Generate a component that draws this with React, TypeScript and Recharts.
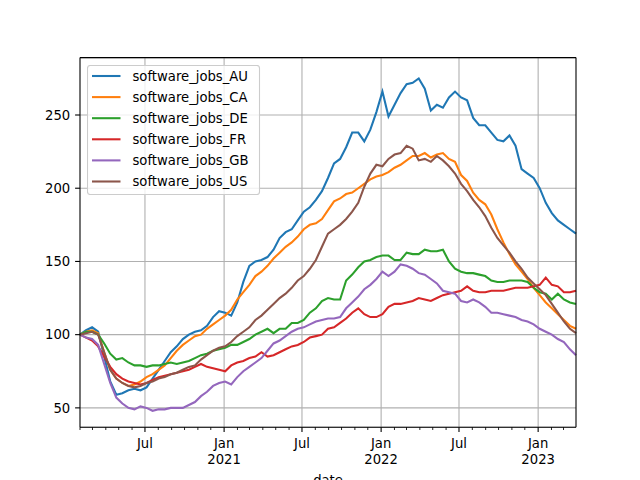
import { LineChart, Line, XAxis, YAxis, CartesianGrid, ReferenceLine, Legend } from "recharts";

// days are counted from 2020-02-01, the left edge of the axis
const START = Date.UTC(2020, 1, 1);
const DAY = 86400000;
const LAST_DAY = 1153;
const FONT = "DejaVu Sans";
const FS = 13.2;

const countries = ["AU", "CA", "DE", "FR", "GB", "US"];
const colors = ["#1f77b4", "#ff7f0e", "#2ca02c", "#d62728", "#9467bd", "#8c564b"];

const AU = [
  100, 103, 105, 102, 85, 68, 59, 60, 62, 63,
  62, 64, 70, 76, 82, 88, 92, 97, 100, 102,
  103, 106, 112, 116, 115, 113, 122, 136, 147, 150,
  151, 153, 158, 166, 170, 172, 178, 184, 187, 192,
  198, 207, 217, 220, 228, 238, 238, 232, 240, 252,
  266, 249, 257, 265, 271, 272, 275, 268, 253, 257,
  255, 262, 266, 262, 260, 248, 243, 243, 238, 233,
  232, 236, 229, 213, 210, 207, 200, 190, 183, 178,
  175, 172, 169,
];
const CA = [
  100, 102, 103, 101, 88, 76, 70, 67, 65, 66,
  68, 71, 73, 76, 79, 84, 89, 93, 96, 99,
  100, 104, 107, 110, 113, 117, 124, 129, 134, 140,
  143, 147, 152, 156, 160, 163, 167, 172, 175, 176,
  179, 185, 191, 193, 196, 197, 200, 203, 206, 208,
  209, 211, 214, 216, 219, 222, 222, 224, 221, 223,
  224, 220, 218, 209, 205, 197, 192, 189, 182, 172,
  163, 155, 148, 143, 138, 132, 127, 122, 118, 114,
  110, 106, 104,
];
const DE = [
  100, 102, 102, 100, 94, 87, 83, 84, 81, 79,
  79, 78, 79, 79, 80, 81, 80, 81, 82, 84,
  86, 87, 89, 90, 91, 93, 93, 95, 97, 100,
  102, 104, 101, 104, 104, 108, 108, 110, 115, 118,
  123, 125, 124, 124, 137, 141, 146, 150, 151, 153,
  154, 154, 151, 151, 156, 155, 155, 158, 157, 157,
  158, 150, 145, 143, 142, 142, 141, 140, 137, 136,
  136, 137, 137, 137, 136, 132, 129, 128, 124, 128,
  124, 122, 121,
];
const FR = [
  100, 98, 96, 92, 85, 78, 73, 70, 68, 67,
  66, 67, 69, 71, 72, 73, 74, 75, 76, 78,
  80, 78, 77, 76, 75, 79, 81, 82, 84, 85,
  88, 85, 86, 88, 90, 92, 93, 95, 98, 99,
  100, 104, 105, 108, 111, 115, 118, 114, 112, 112,
  114, 119, 121, 121, 122, 123, 125, 124, 123, 125,
  127, 128, 129, 130, 133, 130, 129, 129, 130, 130,
  130, 131, 132, 132, 132, 133, 134, 139, 134, 133,
  129, 129, 130,
];
const GB = [
  100, 98, 97, 93, 80, 67, 57, 53, 50, 49,
  51, 50, 48, 49, 49, 50, 50, 50, 52, 54,
  58, 61, 65, 67, 68, 66, 71, 75, 78, 81,
  84, 89, 94, 96, 99, 102, 104, 105, 107, 109,
  110, 111, 111, 112, 118, 122, 126, 131, 134, 138,
  143, 140, 143, 148, 147, 145, 142, 141, 138, 135,
  130, 129, 128, 123, 122, 124, 122, 119, 115, 115,
  114, 113, 112, 110, 109, 107, 104, 102, 100, 97,
  95, 90, 86,
];
const US = [
  100, 101, 102, 100, 88, 76, 70, 67, 65, 64,
  65, 67, 68, 70, 71, 73, 74, 76, 78, 79,
  83, 86, 89, 91, 92, 95, 99, 102, 105, 110,
  113, 117, 121, 125, 128, 132, 137, 140, 145, 151,
  160, 169, 172, 175, 179, 184, 190, 201, 210, 216,
  215, 220, 223, 224, 229, 227, 219, 220, 218, 222,
  219, 215, 210, 203, 198, 192, 187, 181, 173, 166,
  161, 156, 150, 145, 139, 135, 131, 127, 121, 115,
  109, 104, 101,
];

const yTicks = [50, 100, 150, 200, 250];
const yDomain = [36.8, 289.2];

const series = { AU, CA, DE, FR, GB, US };
const data = AU.map((_, i) => {
  const row: Record<string, number> = { day: (i * LAST_DAY) / (AU.length - 1) };
  countries.forEach((c) => (row[c] = series[c][i]));
  return row;
});

// month starts from Feb 2020 to Mar 2023, as day offsets
const monthTicks: number[] = [];
for (let y = 2020, m = 1; ; m++) {
  if (m === 12) { m = 0; y++; }
  const d = (Date.UTC(y, m, 1) - START) / DAY;
  if (d > LAST_DAY) break;
  monthTicks.push(d);
}
const majorTicks = monthTicks.filter((d) => {
  const m = new Date(START + d * DAY).getUTCMonth();
  return m === 0 || m === 6;
});

function DateTick({ x, y, payload }: any) {
  const dt = new Date(START + payload.value * DAY);
  const m = dt.getUTCMonth();
  const major = m === 0 || m === 6;
  return (
    <g>
      <line x1={x} x2={x} y1={y} y2={y + (major ? 4.9 : 2.8)} stroke="#000" strokeWidth={major ? 1.1 : 0.85} />
      {major && (
        <text x={x} y={y + 20.8} textAnchor="middle" fontFamily={FONT} fontSize={FS} fill="#000">
          {m === 0 ? "Jan" : "Jul"}
        </text>
      )}
      {m === 0 && (
        <text x={x} y={y + 36.8} textAnchor="middle" fontFamily={FONT} fontSize={FS} fill="#000">
          {dt.getUTCFullYear()}
        </text>
      )}
    </g>
  );
}

function LegendBox() {
  return (
    <svg width={174} height={130} style={{ display: "block" }}>
      <rect x={0.5} y={0.5} width={172} height={129} rx={2.8} fill="#fff" fillOpacity={0.8} stroke="#cccccc" strokeWidth={1.1} />
      {countries.map((c, i) => {
        const cy = 11 + i * 21.1;
        return (
          <g key={c}>
            <line x1={5} x2={33.5} y1={cy} y2={cy} stroke={colors[i]} strokeWidth={2.08} />
            <text x={45.5} y={cy} dy="0.36em" fontFamily={FONT} fontSize={FS} fill="#000">
              {`software_jobs_${c}`}
            </text>
          </g>
        );
      })}
    </svg>
  );
}

export default function App() {
  return (
    <div style={{ position: "absolute", left: 0, top: 0, background: "#fff" }}>
      <LineChart width={640} height={480} data={data} margin={{ top: 57.6, right: 64, bottom: 0, left: 0 }}>
        <CartesianGrid vertical={false} stroke="#b0b0b0" strokeWidth={1.1} />
        {majorTicks.map((d) => (
          <ReferenceLine key={d} x={d} stroke="#b0b0b0" strokeWidth={1.1} />
        ))}
        <XAxis
          dataKey="day"
          type="number"
          domain={[0, LAST_DAY]}
          ticks={monthTicks}
          interval={0}
          tick={<DateTick />}
          tickLine={false}
          tickSize={0}
          tickMargin={0}
          height={52.8}
          axisLine={{ stroke: "#000", strokeWidth: 1.1 }}
          label={({ viewBox }: any) => (
            <text x={viewBox.x + viewBox.width / 2} y={viewBox.y + 57.8} textAnchor="middle" fontFamily={FONT} fontSize={FS} fill="#000">
              date
            </text>
          )}
        />
        <YAxis
          type="number"
          domain={yDomain}
          ticks={yTicks}
          width={80}
          allowDataOverflow
          tickSize={4.9}
          tickMargin={4.9}
          tickLine={{ stroke: "#000", strokeWidth: 1.1 }}
          axisLine={{ stroke: "#000", strokeWidth: 1.1 }}
          tick={{ fill: "#000", fontSize: FS, fontFamily: FONT }}
        />
        {countries.map((c, i) => (
          <Line
            key={c}
            type="linear"
            dataKey={c}
            stroke={colors[i]}
            strokeWidth={2.08}
            dot={false}
            activeDot={false}
            isAnimationActive={false}
          />
        ))}
        <ReferenceLine x={LAST_DAY} stroke="#000" strokeWidth={1.1} />
        <ReferenceLine y={yDomain[1]} stroke="#000" strokeWidth={1.1} />
        <Legend
          layout="vertical"
          align="center"
          verticalAlign="middle"
          wrapperStyle={{ left: 87, top: 65, width: 174, height: 130 }}
          content={() => <LegendBox />}
        />
      </LineChart>
    </div>
  );
}
